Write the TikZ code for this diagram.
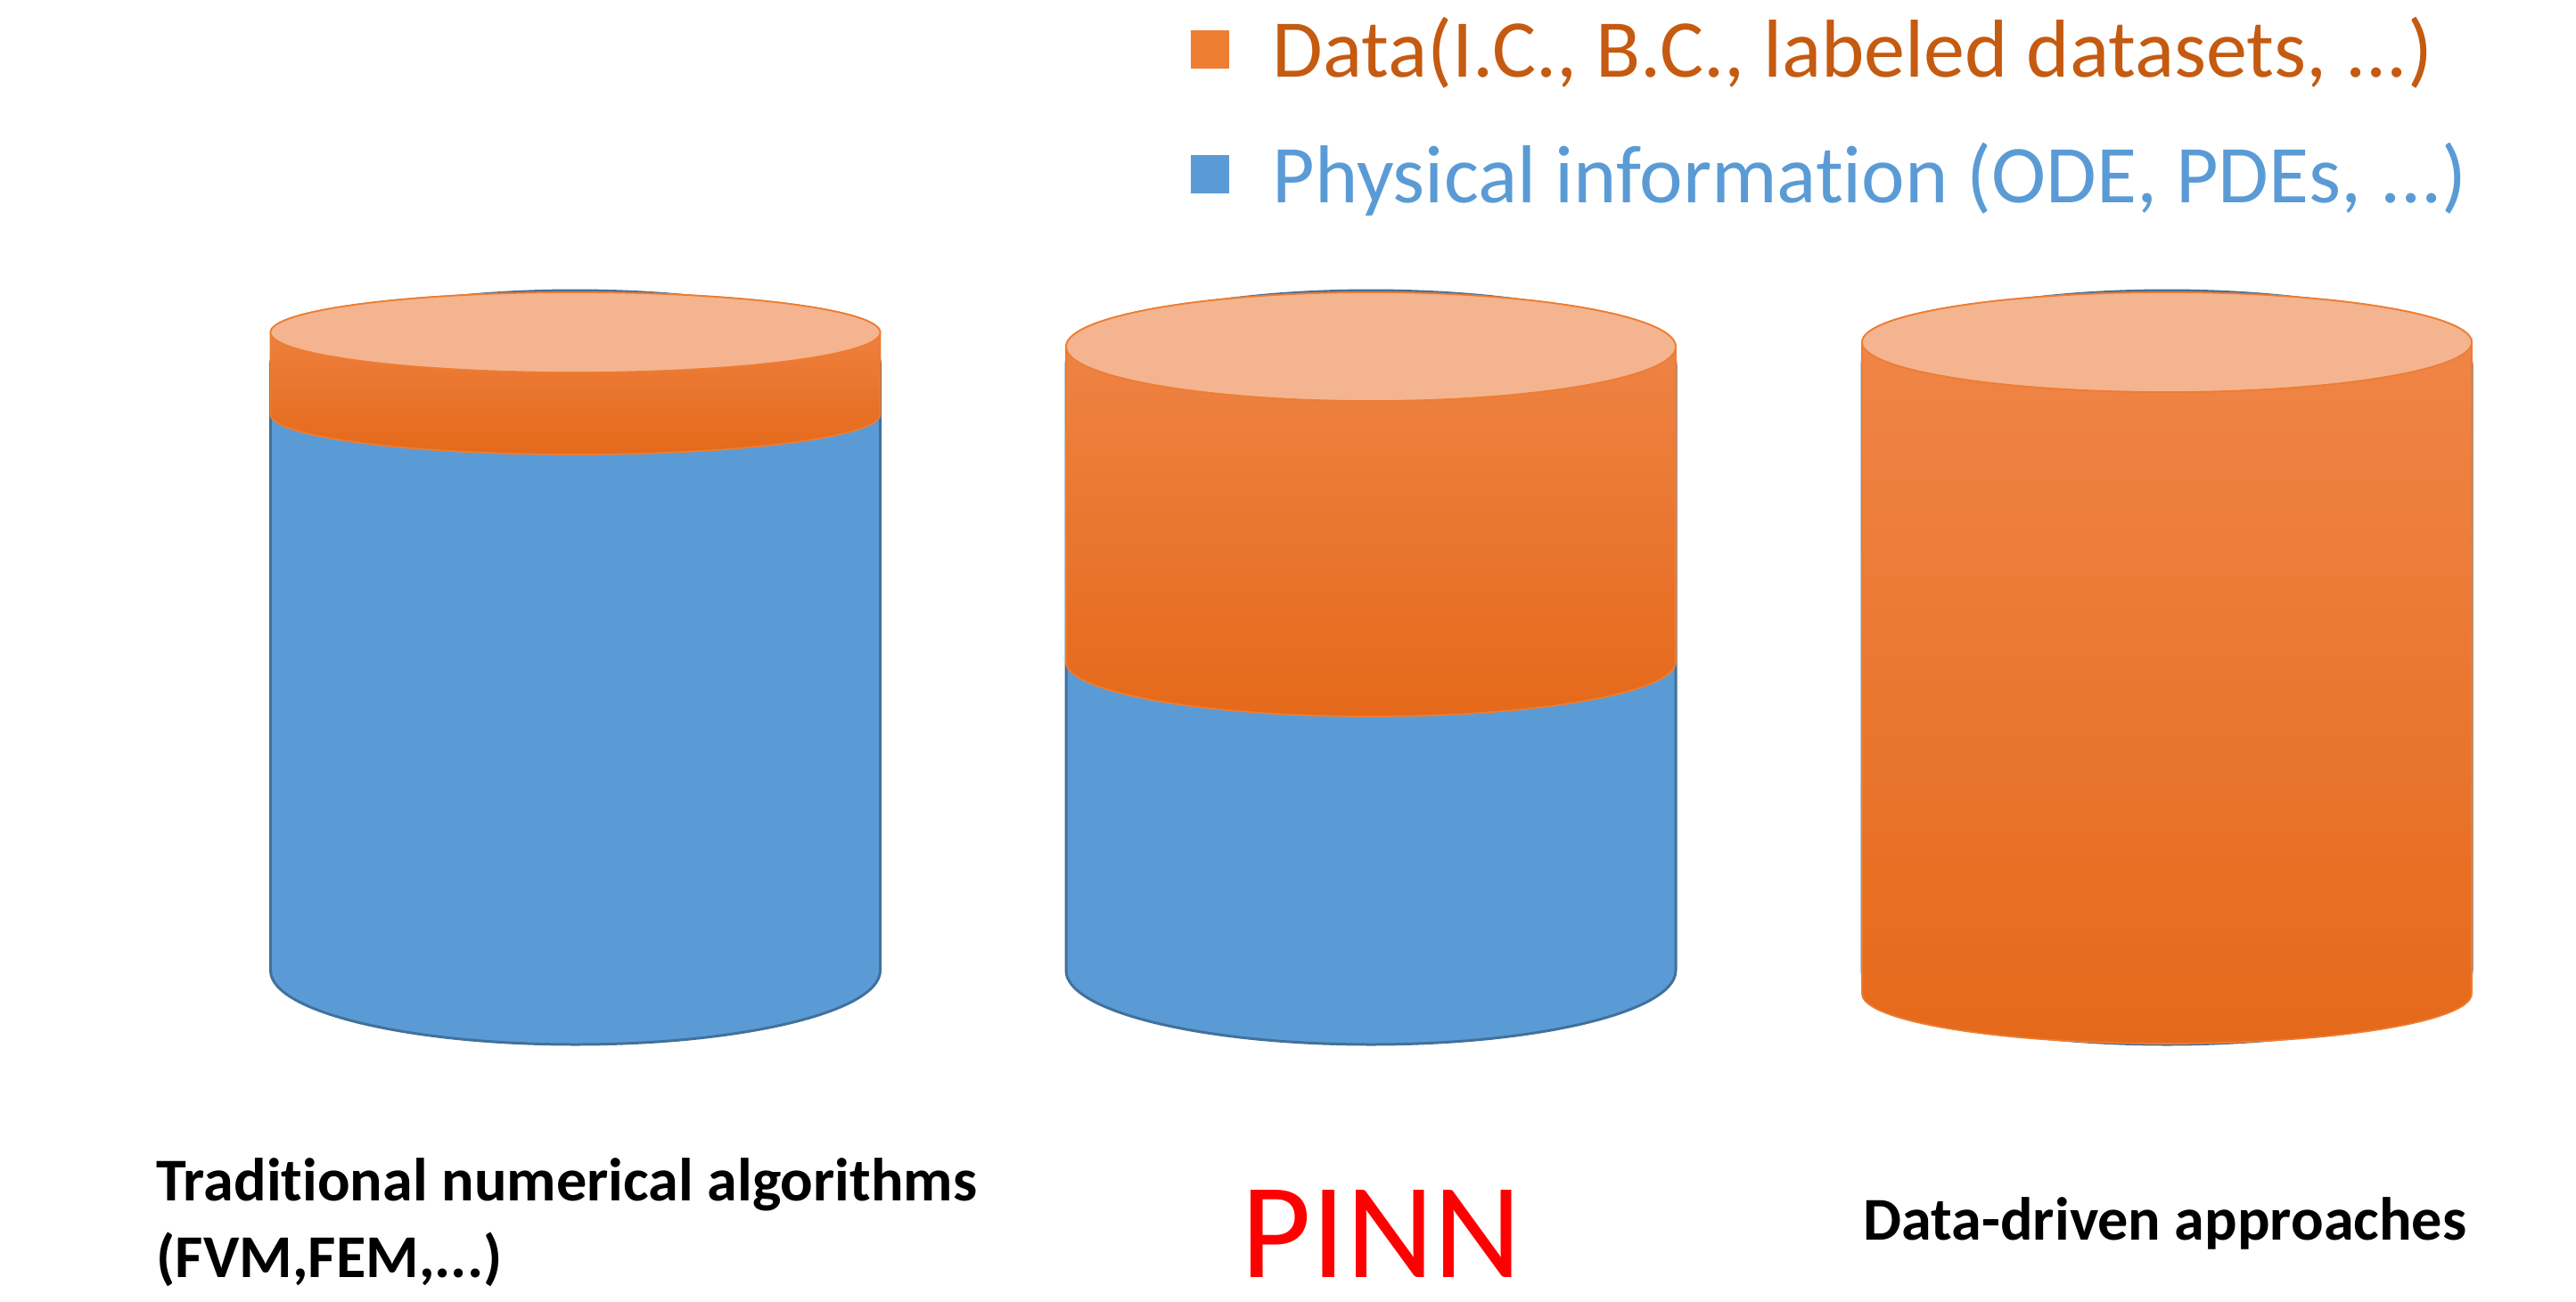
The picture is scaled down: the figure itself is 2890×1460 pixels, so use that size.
\documentclass[tikz,border=0pt]{standalone}
\usepackage{fontspec}
\setmainfont{Carlito}[Ligatures=NoCommon]
\definecolor{pblue}{HTML}{5B9BD5}
\definecolor{pblueedge}{HTML}{41719C}
\definecolor{porange}{HTML}{ED7D31}
\definecolor{ptopfill}{HTML}{F4B490}
\definecolor{pshadetop}{HTML}{F0874A}
\definecolor{pshademid}{HTML}{F47D2C}
\definecolor{pshadebot}{HTML}{E5691A}
\definecolor{plegorange}{HTML}{C55A11}
\definecolor{pred}{HTML}{FF0000}
% #1 style, #2 cx, #3 top centre y, #4 bottom centre y, #5 rx, #6 ry
\newcommand{\drawcanbody}[6]{%
  \path[#1] (#2-#5,#3) -- (#2-#5,#4)
    arc[start angle=180,end angle=0,x radius=#5,y radius=#6]
    -- (#2+#5,#3)
    arc[start angle=0,end angle=-180,x radius=#5,y radius=#6] -- cycle;}
\newcommand{\drawcantop}[5]{%
  \path[#1] (#2,#3) ellipse[x radius=#4,y radius=#5];}
\tikzset{
  bluebody/.style={fill=pblue,draw=pblueedge,line width=0.85pt},
  orangebody/.style={draw=porange,line width=0.5pt,top color=pshadetop,middle color=pshademid,bottom color=pshadebot},
  orangetop/.style={fill=ptopfill,draw=porange,line width=0.5pt},
  legtext/.style={anchor=base west,inner sep=0pt,font=\fontsize{26.2}{30}\selectfont},
  legbox/.style={inner sep=0pt,minimum size=0.43cm,anchor=north west},
  captext/.style={anchor=base west,inner sep=0pt,align=left,font=\bfseries\fontsize{19.4}{24.2}\selectfont}
}
\begin{document}
\begin{tikzpicture}[x=0.01cm,y=-0.01cm]
\useasboundingbox (0,0) rectangle (2890,1460);
% legend
\node[legbox,fill=porange] (sqdata) at (1335,33) {};
\node[legtext,text=plegorange] (legdata) at (1427,86) {Data(I.C., B.C., labeled datasets, ...)};
\node[legbox,fill=pblue] (sqphys) at (1335,173) {};
\node[legtext,text=pblue] (legphys) at (1427,227) {Physical information (ODE, PDEs, ...)};
% cylinder 1: traditional
\drawcanbody{bluebody}{645.5}{409}{1089}{342}{83}
\drawcanbody{orangebody}{645.5}{373}{465}{342}{45}
\drawcantop{orangetop}{645.5}{373}{342}{45}
% cylinder 2: PINN
\drawcanbody{bluebody}{1538}{409}{1089}{342}{83}
\drawcanbody{orangebody}{1538}{389}{743}{342}{61}
\drawcantop{orangetop}{1538}{389}{342}{61}
% cylinder 3: data-driven
\drawcanbody{bluebody}{2431}{409}{1089}{342}{83}
\drawcanbody{orangebody}{2431}{384}{1115}{342}{56}
\drawcantop{orangetop}{2431}{384}{342}{56}
% captions
\node[captext] (captrad) at (175,1433) {Traditional numerical algorithms\\(FVM,FEM,...)};
\node[anchor=base west,inner sep=0pt,text depth=0pt,text=pred,font=\fontsize{43.4}{50}\selectfont] (cappinn) at (1392,1433) {PINN};
\node[captext] (capdata) at (2090,1391) {Data-driven approaches};
\end{tikzpicture}
\end{document}
